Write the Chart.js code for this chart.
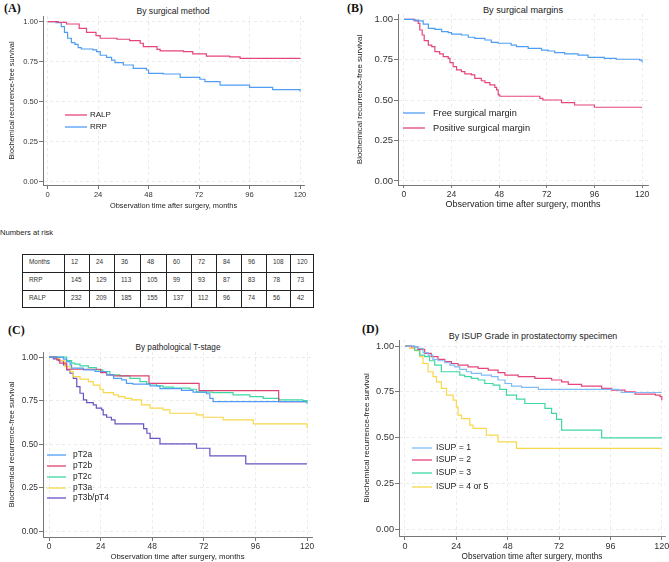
<!DOCTYPE html>
<html>
<head>
<meta charset="utf-8">
<script src="https://cdn.jsdelivr.net/npm/chart.js@4"></script>
<style>
  body { margin: 0; background: #fff; width: 669px; height: 562px; position: relative; overflow: hidden; font-family: "Liberation Sans", Arial, sans-serif; }
  .box { position: absolute; }
  .tag { position: absolute; font-family: "Liberation Serif", "Times New Roman", serif; font-weight: bold; font-size: 12px; color: #111; }
  .ttl { position: absolute; transform: translate(-50%, -50%); white-space: nowrap; color: #222; }
  #riskTitle { position: absolute; left: 0; top: 228px; font-size: 7.6px; color: #222; }
  #risk { position: absolute; left: 22px; top: 254px; border-collapse: collapse; font-size: 6.4px; color: #333; }
  #risk td { border: 1px solid #222; height: 16px; vertical-align: top; padding: 3px 0 0 6px; box-sizing: border-box; }
</style>
</head>
<body>
<div class="tag" style="left:4px;top:1px">(A)</div>
<div class="tag" style="left:347px;top:1px">(B)</div>
<div class="tag" style="left:8px;top:323px">(C)</div>
<div class="tag" style="left:362px;top:322px">(D)</div>

<div class="ttl" style="left:173px;top:11px;font-size:8.6px">By surgical method</div>
<div class="ttl" style="left:523px;top:10px;font-size:9.2px">By surgical margins</div>
<div class="ttl" style="left:178px;top:347px;font-size:8.2px">By pathological T-stage</div>
<div class="ttl" style="left:533px;top:336px;font-size:8.9px">By ISUP Grade in prostatectomy specimen</div>

<div class="box" style="left:0;top:0;width:335px;height:210px"><canvas id="chartA"></canvas></div>
<div class="box" style="left:335px;top:0;width:334px;height:210px"><canvas id="chartB"></canvas></div>
<div class="box" style="left:0;top:330px;width:335px;height:232px"><canvas id="chartC"></canvas></div>
<div class="box" style="left:335px;top:330px;width:340px;height:232px"><canvas id="chartD"></canvas></div>

<div id="riskTitle">Numbers at risk</div>
<table id="risk"></table>

<script>
// x / y ticks
const xTicks = [0, 24, 48, 72, 96, 120];
const yTicks = [0, 0.25, 0.5, 0.75, 1];

// numbers at risk
const riskMonths = [12, 24, 36, 48, 60, 72, 84, 96, 108, 120];
const riskRRP = [145, 129, 113, 105, 99, 93, 87, 83, 78, 73];
const riskRALP = [232, 209, 185, 155, 137, 112, 96, 74, 56, 42];

// (A) by surgical method
const ralpT = [0, 5, 9, 15, 18.5, 23, 25, 33, 39, 44, 45.5, 52, 53.5, 64.5, 69, 75.5, 86.5, 91.5, 120];
const ralpS = [1, 0.995, 0.985, 0.958, 0.933, 0.913, 0.896, 0.89, 0.881, 0.865, 0.844, 0.827, 0.817, 0.812, 0.798, 0.785, 0.78, 0.771, 0.767];
const rrpT = [0, 4, 6.5, 8, 9.5, 11.3, 13, 14.5, 16, 21.5, 23.3, 25, 28, 30.4, 32, 36, 40.7, 47, 48, 55, 63, 72.4, 74.8, 82, 96, 107, 120];
const rrpS = [1, 0.994, 0.969, 0.933, 0.896, 0.869, 0.858, 0.838, 0.829, 0.823, 0.813, 0.79, 0.777, 0.76, 0.744, 0.729, 0.708, 0.698, 0.677, 0.673, 0.652, 0.64, 0.625, 0.604, 0.59, 0.575, 0.5625];

// (B) by surgical margins
const freeT = [0, 4.7, 7.2, 9.7, 12.3, 15.6, 19, 22.3, 24, 29, 32.4, 35.7, 40.8, 44, 47.5, 54, 56.7, 62.6, 69.3, 72.7, 76, 81, 87.8, 92.8, 101, 107, 118.8, 120];
const freeS = [1, 0.995, 0.99, 0.97, 0.944, 0.938, 0.924, 0.918, 0.909, 0.903, 0.889, 0.882, 0.872, 0.858, 0.852, 0.841, 0.831, 0.82, 0.81, 0.804, 0.794, 0.786, 0.779, 0.765, 0.759, 0.753, 0.748, 0.734];
const posT = [0, 5.5, 7.2, 8, 9.2, 10.2, 12.3, 14, 15.6, 18, 19.8, 22.3, 23.2, 24.8, 26.5, 29, 30.7, 34, 35.7, 39, 40.8, 43.3, 45.8, 46.7, 47.5, 48.3, 68.5, 70, 79.4, 86, 96, 120];
const posS = [1, 0.99, 0.975, 0.934, 0.903, 0.868, 0.841, 0.831, 0.8, 0.786, 0.769, 0.759, 0.732, 0.707, 0.687, 0.676, 0.662, 0.656, 0.635, 0.62, 0.608, 0.594, 0.579, 0.563, 0.532, 0.524, 0.511, 0.501, 0.485, 0.47, 0.456, 0.456];

// (C) by pathological T-stage
const t2aT = [0, 6.7, 8.2, 9.8, 10.5, 16, 21.4, 26.8, 30, 33.8, 36, 39, 47, 51.6, 61.6, 67, 73.2, 74.8, 76.3, 120];
const t2aS = [1, 0.989, 0.975, 0.956, 0.937, 0.927, 0.918, 0.898, 0.879, 0.87, 0.85, 0.845, 0.835, 0.82, 0.81, 0.8, 0.79, 0.764, 0.745, 0.745];
const t2bT = [0, 3.6, 5, 8.2, 24, 26.8, 30, 46.5, 69.8, 106.8, 120];
const t2bS = [1, 0.985, 0.966, 0.931, 0.912, 0.898, 0.893, 0.85, 0.808, 0.745, 0.745];
const t2cT = [0, 8.2, 10.5, 12, 14.4, 18.3, 22, 25, 28.3, 33, 37.6, 42.3, 45.4, 50, 53, 57.8, 65.5, 68.6, 76, 85.6, 93.4, 99.6, 107, 118, 120];
const t2cS = [1, 0.98, 0.966, 0.96, 0.95, 0.94, 0.927, 0.918, 0.898, 0.893, 0.879, 0.86, 0.847, 0.835, 0.828, 0.822, 0.816, 0.8, 0.797, 0.784, 0.774, 0.764, 0.755, 0.751, 0.73];
const t3aT = [0, 3.6, 5, 7.4, 9.8, 11.3, 14.4, 18.3, 20.6, 23.7, 25.2, 30, 32.2, 35.3, 38.4, 43, 47, 53, 56.2, 68.6, 71.7, 81, 95, 120];
const t3aS = [1, 0.994, 0.98, 0.946, 0.918, 0.889, 0.874, 0.86, 0.84, 0.816, 0.797, 0.784, 0.774, 0.764, 0.755, 0.726, 0.707, 0.697, 0.678, 0.669, 0.655, 0.64, 0.617, 0.592];
const t3bT = [0, 2, 4.3, 6.7, 8.2, 9.8, 11.3, 12.9, 14.4, 16, 17.5, 20.6, 22, 24.5, 25.2, 26.8, 29, 30.7, 44, 45.5, 47, 51.6, 68.6, 74.8, 91.5, 120];
const t3bS = [1, 0.99, 0.98, 0.956, 0.927, 0.908, 0.879, 0.831, 0.793, 0.755, 0.739, 0.726, 0.707, 0.697, 0.669, 0.655, 0.64, 0.617, 0.59, 0.563, 0.534, 0.502, 0.477, 0.433, 0.387, 0.387];

// (D) by ISUP grade
const isup1T = [0, 4.5, 6, 8.4, 10.8, 13, 15.4, 18.6, 21, 23.3, 25.6, 28.7, 31, 35.7, 40.4, 43.5, 46.7, 49.8, 54.5, 62.3, 99.7, 101, 120];
const isup1S = [1, 0.995, 0.987, 0.964, 0.951, 0.927, 0.92, 0.909, 0.896, 0.887, 0.873, 0.86, 0.851, 0.842, 0.833, 0.815, 0.796, 0.782, 0.775, 0.764, 0.76, 0.747, 0.747];
const isup2T = [0, 3, 6, 9.2, 12.3, 15.4, 18.6, 21.7, 24.8, 29.5, 34.2, 38.9, 43.5, 46.7, 52.9, 60.7, 68.5, 73.2, 76.3, 82.5, 91.9, 96.6, 102.8, 107.5, 117, 119.2, 120];
const isup2S = [1, 0.995, 0.982, 0.96, 0.942, 0.927, 0.915, 0.905, 0.896, 0.887, 0.878, 0.869, 0.855, 0.842, 0.833, 0.824, 0.815, 0.805, 0.791, 0.782, 0.769, 0.76, 0.751, 0.738, 0.733, 0.724, 0.705];
const isup3T = [0, 4.5, 6.9, 9.2, 11.5, 13.9, 17, 25.6, 27.9, 31, 34.2, 37.3, 41.2, 44.3, 47.4, 52.1, 56, 65.4, 68.5, 70.8, 73.2, 91.9, 120];
const isup3S = [1, 0.978, 0.951, 0.942, 0.92, 0.896, 0.86, 0.842, 0.833, 0.824, 0.815, 0.796, 0.787, 0.764, 0.733, 0.711, 0.687, 0.66, 0.633, 0.6, 0.542, 0.5, 0.5];
const isup45T = [0, 2.2, 4.5, 6.9, 8.4, 10.8, 13.1, 14.7, 17, 19.4, 22.5, 24, 24.8, 26.4, 30.3, 31.8, 38, 43.5, 52.1, 120];
const isup45S = [1, 0.987, 0.975, 0.942, 0.905, 0.86, 0.833, 0.805, 0.769, 0.733, 0.705, 0.669, 0.624, 0.605, 0.569, 0.551, 0.515, 0.478, 0.442, 0.442];

const PINK = '#e6457a';
const BLUE = '#4f9ef4';
const LIGHTBLUE = '#7fbcf6';
const GREEN = '#3fd7a4';
const YELLOW = '#f8d84b';
const PURPLE = '#6a51c4';

Chart.defaults.font.family = '"Liberation Sans", Arial, sans-serif';
Chart.defaults.color = '#333';

const pts = (t, s) => t.map((v, i) => ({ x: v, y: s[i] }));

const series = (label, t, s, color) => ({
    label,
    data: pts(t, s),
    borderColor: color,
    borderWidth: 1.2,
    stepped: true,
    pointRadius: 0,
    fill: false
});

// legend drawn inside the plot, like the Stata output
const insetLegend = {
    id: 'insetLegend',
    afterDatasetsDraw(chart, args, opts) {
        const ctx = chart.ctx;
        ctx.save();
        ctx.font = `${opts.size}px "Liberation Sans", Arial, sans-serif`;
        ctx.textBaseline = 'middle';
        ctx.fillStyle = '#222';
        chart.data.datasets.forEach((ds, i) => {
            const y = opts.ys[i];
            ctx.strokeStyle = ds.borderColor;
            ctx.lineWidth = 1.3;
            ctx.beginPath();
            ctx.moveTo(opts.x0, y);
            ctx.lineTo(opts.x1, y);
            ctx.stroke();
            ctx.fillText(ds.label, opts.tx, y);
        });
        ctx.restore();
    }
};

const axes = (o) => ({
    x: {
        type: 'linear',
        min: o.xMin,
        max: o.xMax,
        afterBuildTicks: s => { s.ticks = xTicks.map(v => ({ value: v })); },
        afterFit: s => { s.height = o.xH; },
        grid: { color: '#e6e6e6', lineWidth: 0.8, tickLength: o.tickLen || 4, tickColor: '#777', tickWidth: 1 },
        border: { color: '#777', width: 1, dash: [3, 3] },
        ticks: { color: '#333', font: { size: o.xTick }, padding: 1, maxRotation: 0, autoSkip: false },
        title: { display: true, text: 'Observation time after surgery, months', color: '#222', font: { size: o.xTitle }, padding: 0 }
    },
    y: {
        min: o.yMin,
        max: o.yMax,
        afterBuildTicks: s => { s.ticks = yTicks.map(v => ({ value: v })); },
        afterFit: s => { s.width = o.yW; },
        grid: { color: '#e6e6e6', lineWidth: 0.8, tickLength: 4, tickColor: '#777', tickWidth: 1 },
        border: { color: '#777', width: 1, dash: [3, 3] },
        ticks: { color: '#333', font: { size: o.yTick }, padding: 1, callback: v => v.toFixed(2) },
        title: { display: true, text: 'Biochemical recurrence-free survival', color: '#222', font: { size: o.yTitle }, padding: { top: o.yTitlePad, bottom: 0 } }
    }
});

const makeChart = (id, datasets, ax, pad, legend) => new Chart(document.getElementById(id), {
    type: 'line',
    data: { datasets },
    options: {
        responsive: true,
        maintainAspectRatio: false,
        animation: false,
        layout: { padding: pad },
        plugins: { legend: { display: false }, tooltip: { enabled: false }, insetLegend: legend },
        scales: axes(ax)
    },
    plugins: [insetLegend]
});

makeChart('chartA',
    [series('RALP', ralpT, ralpS, PINK), series('RRP', rrpT, rrpS, BLUE)],
    { xMin: -2.2, xMax: 121.9, yMin: -0.02, yMax: 1.035, xH: 25, yW: 43, xTick: 7.6, xTitle: 7.4, yTick: 7.6, yTitle: 7.3, yTitlePad: 8 },
    { top: 16, right: 31, left: 0, bottom: 0 },
    { x0: 65, x1: 87, tx: 90, ys: [115, 127], size: 8 });

makeChart('chartB',
    [series('Free surgical margin', freeT, freeS, BLUE), series('Positive surgical margin', posT, posS, PINK)],
    { xMin: -3, xMax: 123, yMin: -0.025, yMax: 1.033, xH: 25, yW: 63, xTick: 8.6, xTitle: 9, tickLen: 3, yTick: 9.5, yTitle: 8, yTitlePad: 20 },
    { top: 14, right: 21, left: 0, bottom: 0 },
    { x0: 68, x1: 90, tx: 98, ys: [113, 128], size: 9.2 });

makeChart('chartC',
    [series('pT2a', t2aT, t2aS, BLUE), series('pT2b', t2bT, t2bS, '#dc4470'), series('pT2c', t2cT, t2cS, GREEN),
     series('pT3a', t3aT, t3aS, YELLOW), series('pT3b/pT4', t3bT, t3bS, PURPLE)],
    { xMin: -2.8, xMax: 122.3, yMin: -0.033, yMax: 1.03, xH: 25, yW: 43, xTick: 8.4, xTitle: 7.8, yTick: 8.4, yTitle: 7.8, yTitlePad: 7 },
    { top: 22, right: 23, left: 0, bottom: 0 },
    { x0: 47, x1: 66, tx: 73, ys: [125, 136, 147, 158, 168], size: 8.4 });

makeChart('chartD',
    [series('ISUP = 1', isup1T, isup1S, LIGHTBLUE), series('ISUP = 2', isup2T, isup2S, PINK),
     series('ISUP = 3', isup3T, isup3S, GREEN), series('ISUP = 4 or 5', isup45T, isup45S, YELLOW)],
    { xMin: -2.8, xMax: 121.5, yMin: -0.035, yMax: 1.033, xH: 26, yW: 64, xTick: 9, xTitle: 8.2, yTick: 9.2, yTitle: 8, yTitlePad: 27 },
    { top: 10, right: 10, left: 0, bottom: 0 },
    { x0: 77, x1: 97, tx: 101, ys: [118, 130, 143, 157], size: 8.7 });

// numbers at risk table
const colW = [42, 25, 25, 26, 26, 25, 25, 25, 25, 24, 23];
const rows = [['Months', ...riskMonths], ['RRP', ...riskRRP], ['RALP', ...riskRALP]];
const rowH = [18, 18, 17];
document.getElementById('risk').innerHTML = rows.map((r, ri) =>
    `<tr style="height:${rowH[ri]}px">` + r.map((c, ci) => `<td style="width:${colW[ci]}px">${c}</td>`).join('') + '</tr>'
).join('');
</script>
</body>
</html>
